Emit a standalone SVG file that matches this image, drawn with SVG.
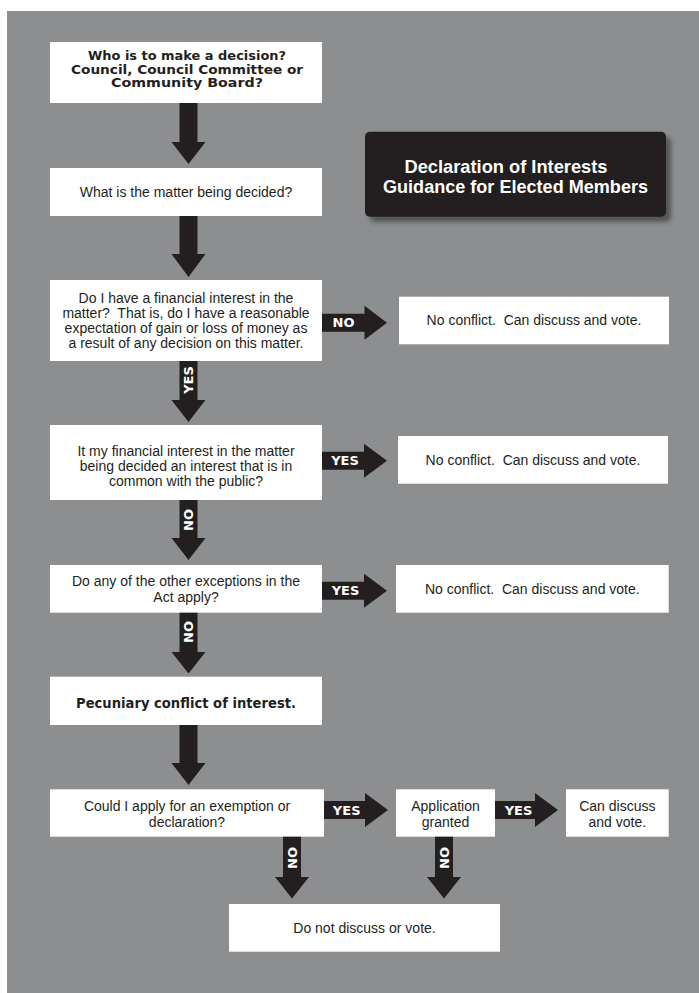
<svg xmlns="http://www.w3.org/2000/svg" width="699" height="993" viewBox="0 0 699 993">
<defs>
<style>
.bg{fill:#8d8e90}
.box{fill:#ffffff}
.arr{fill:#231f20}
.t{font-family:"Liberation Sans",Arial,sans-serif;font-size:14px;fill:#231f20;text-anchor:middle}
.h{font-family:"DejaVu Sans",Verdana,sans-serif;font-weight:bold;font-size:13.5px;fill:#231f20;text-anchor:middle}
.h1{font-family:"DejaVu Sans",Verdana,sans-serif;font-weight:bold;font-size:12px;fill:#231f20;text-anchor:middle}
.lbl{font-family:"DejaVu Sans",Verdana,sans-serif;font-weight:bold;font-size:13px;fill:#ffffff;text-anchor:middle}
.title{font-family:"Liberation Sans",Arial,sans-serif;font-weight:bold;font-size:19px;fill:#ffffff;text-anchor:middle}
</style>
<filter id="shadow" x="-10%" y="-20%" width="120%" height="140%">
<feGaussianBlur stdDeviation="2.5"/>
</filter>
</defs>
<rect class="bg" x="7" y="11" width="692" height="982"/>

<g id="title">
<rect x="370" y="137" width="301" height="85" rx="5" fill="#3a3a3c" opacity="0.7" filter="url(#shadow)"/>
<rect x="365" y="131.7" width="301" height="85" rx="5" fill="#231f20"/>
<text class="title" x="506" y="173.3" textLength="203" lengthAdjust="spacingAndGlyphs">Declaration of Interests</text>
<text class="title" x="515.5" y="192.7" textLength="265" lengthAdjust="spacingAndGlyphs">Guidance for Elected Members</text>
</g>

<g id="n1">
<rect class="box" x="50" y="42" width="272" height="61"/>
<text class="h1" x="187" y="60" textLength="198" lengthAdjust="spacingAndGlyphs">Who is to make a decision?</text>
<text class="h1" x="187" y="73.5" textLength="232" lengthAdjust="spacingAndGlyphs">Council, Council Committee or</text>
<text class="h1" x="187" y="87" textLength="152" lengthAdjust="spacingAndGlyphs">Community Board?</text>
</g>

<g id="n2">
<rect class="box" x="50" y="168" width="272" height="48"/>
<text class="t" x="186" y="196.5">What is the matter being decided?</text>
</g>

<g id="n3">
<rect class="box" x="50" y="280" width="272" height="81"/>
<text class="t" x="186" y="303" xml:space="preserve">Do I have a financial interest in the</text>
<text class="t" x="186" y="318" xml:space="preserve">matter?  That is, do I have a reasonable</text>
<text class="t" x="186" y="333" xml:space="preserve">expectation of gain or loss of money as</text>
<text class="t" x="186" y="348" xml:space="preserve">a result of any decision on this matter.</text>
</g>

<g id="n3b">
<rect class="box" x="399" y="296.7" width="270" height="47.6"/>
<text class="t" x="534" y="325" xml:space="preserve">No conflict.  Can discuss and vote.</text>
</g>

<g id="n4">
<rect class="box" x="50" y="425" width="272" height="75"/>
<text class="t" x="186" y="455.5">It my financial interest in the matter</text>
<text class="t" x="186" y="470.5">being decided an interest that is in</text>
<text class="t" x="186" y="485.5">common with the public?</text>
</g>

<g id="n4b">
<rect class="box" x="398" y="436" width="270" height="47.7"/>
<text class="t" x="533" y="465" xml:space="preserve">No conflict.  Can discuss and vote.</text>
</g>

<g id="n5">
<rect class="box" x="50" y="565" width="272" height="47.7"/>
<text class="t" x="186" y="586">Do any of the other exceptions in the</text>
<text class="t" x="186" y="601.5">Act apply?</text>
</g>

<g id="n5b">
<rect class="box" x="396" y="565" width="272.7" height="47.7"/>
<text class="t" x="532.3" y="594" xml:space="preserve">No conflict.  Can discuss and vote.</text>
</g>

<g id="n6">
<rect class="box" x="50" y="676.7" width="272" height="48.3"/>
<text class="h" x="186" y="708" textLength="220" lengthAdjust="spacingAndGlyphs">Pecuniary conflict of interest.</text>
</g>

<g id="n7">
<rect class="box" x="50" y="789.3" width="274" height="47.4"/>
<text class="t" x="187" y="810.5">Could I apply for an exemption or</text>
<text class="t" x="187" y="826.5">declaration?</text>
</g>

<g id="n8">
<rect class="box" x="396" y="789.3" width="99" height="47.4"/>
<text class="t" x="445.5" y="810.5">Application</text>
<text class="t" x="445.5" y="826.5">granted</text>
</g>

<g id="n9">
<rect class="box" x="566" y="789.3" width="102.7" height="47.4"/>
<text class="t" x="617.3" y="810.5">Can discuss</text>
<text class="t" x="617.3" y="826.5">and vote.</text>
</g>

<g id="n10">
<rect class="box" x="229" y="904" width="271" height="47.7"/>
<text class="t" x="364.5" y="933">Do not discuss or vote.</text>
</g>

<g id="connectors">
<polygon class="arr" points="179.5,103 197.5,103 197.5,142 205.5,142 188.5,164 171.5,142 179.5,142"/>
<polygon class="arr" points="179.5,216 197.5,216 197.5,254 205.5,254 188.5,277 171.5,254 179.5,254"/>
<polygon class="arr" points="179.5,361 197.5,361 197.5,400 205.5,400 188.5,422 171.5,400 179.5,400"/>
<polygon class="arr" points="179.5,500 197.5,500 197.5,538 205.5,538 188.5,560 171.5,538 179.5,538"/>
<polygon class="arr" points="179.5,612.7 197.5,612.7 197.5,652 205.5,652 188.5,673.5 171.5,652 179.5,652"/>
<polygon class="arr" points="179.5,725 197.5,725 197.5,763 205.5,763 188.5,785 171.5,763 179.5,763"/>
<polygon class="arr" points="283,836.7 301,836.7 301,877 309,877 292,898.5 275,877 283,877"/>
<polygon class="arr" points="435,836.7 453,836.7 453,877 461,877 444,898.5 427,877 435,877"/>

<polygon class="arr" points="322,313.7 364.5,313.7 364.5,305.7 387,322.7 364.5,339.7 364.5,331.7 322,331.7"/>
<polygon class="arr" points="322,451.7 364,451.7 364,443.7 387,460.7 364,477.7 364,469.7 322,469.7"/>
<polygon class="arr" points="322,581.7 364,581.7 364,573.7 387,590.7 364,607.7 364,599.7 322,599.7"/>
<polygon class="arr" points="324,801 365,801 365,793 388,810 365,827 365,819 324,819"/>
<polygon class="arr" points="495,801 535,801 535,793 558,810 535,827 535,819 495,819"/>

<text class="lbl" x="343.5" y="327.4">NO</text>
<text class="lbl" x="345" y="465.4">YES</text>
<text class="lbl" x="345.5" y="595.4">YES</text>
<text class="lbl" x="346.7" y="814.7">YES</text>
<text class="lbl" x="518.5" y="814.7">YES</text>

<text class="lbl" transform="translate(188.5,380) rotate(-90)" x="0" y="4.7">YES</text>
<text class="lbl" transform="translate(188.5,520) rotate(-90)" x="0" y="4.7">NO</text>
<text class="lbl" transform="translate(188.5,632) rotate(-90)" x="0" y="4.7">NO</text>
<text class="lbl" transform="translate(292,858) rotate(-90)" x="0" y="4.7">NO</text>
<text class="lbl" transform="translate(444,858) rotate(-90)" x="0" y="4.7">NO</text>
</g>
</svg>
